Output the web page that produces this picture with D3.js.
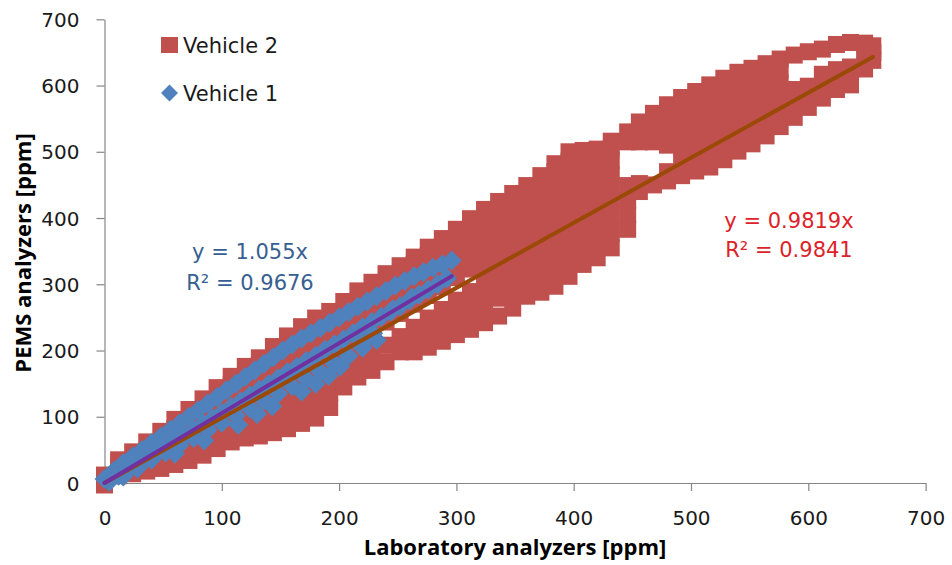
<!DOCTYPE html>
<html>
<head>
<meta charset="utf-8">
<script src="https://cdn.jsdelivr.net/npm/d3@7"></script>
<style>
  body { margin: 0; background: #fff; }
  text { font-family: "DejaVu Sans", "Open Sans", sans-serif; }
  .title { font-family: "Open Sans", "DejaVu Sans", sans-serif; font-weight: bold; font-size: 22px; }
</style>
</head>
<body>
<svg id="chart" width="952" height="565"></svg>
<script>
// Axis ticks (ppm)
const xTicks = [0, 100, 200, 300, 400, 500, 600, 700];
const yTicks = [0, 100, 200, 300, 400, 500, 600, 700];

const seriesNames = ["Vehicle 2", "Vehicle 1"];
const trendSlopes = { "Vehicle 2": 0.9819, "Vehicle 1": 1.055 };
const trendR2 = { "Vehicle 2": "0.9841", "Vehicle 1": "0.9676" };

// Vehicle 2: laboratory reading -> PEMS readings logged at that laboratory value
const vehicle2Columns = [
  [0, [-3, 12]],
  [12, [11, 23, 35]],
  [24, [14, 30, 47]],
  [36, [18, 34, 48, 62]],
  [48, [22, 40, 58, 78]],
  [60, [28, 46, 64, 82, 96]],
  [72, [34, 52, 72, 92, 111]],
  [84, [42, 62, 84, 106, 127]],
  [96, [52, 74, 97, 120, 144]],
  [108, [62, 84, 106, 128, 148, 161]],
  [120, [68, 90, 112, 134, 156, 176]],
  [132, [71, 92, 114, 136, 158, 178, 189]],
  [144, [76, 98, 120, 142, 164, 186, 206]],
  [156, [82, 104, 126, 148, 170, 192, 212, 222]],
  [168, [90, 112, 134, 156, 178, 200, 220, 236]],
  [180, [98, 120, 142, 164, 186, 208, 230, 249]],
  [192, [114, 136, 158, 180, 202, 224, 244, 259]],
  [204, [145, 167, 189, 211, 233, 254, 274]],
  [216, [160, 182, 204, 226, 248, 270, 290]],
  [228, [170, 192, 214, 236, 258, 280, 303]],
  [240, [183, 208, 243, 265, 287, 303, 316]],
  [252, [198, 221, 256, 278, 300, 314, 328]],
  [264, [198, 214, 235, 270, 292, 314, 330, 341]],
  [276, [205, 227, 249, 283, 305, 325, 343, 356]],
  [288, [214, 238, 262, 296, 318, 338, 355, 369]],
  [300, [224, 243, 260, 276, 310, 330, 348, 366, 383]],
  [312, [232, 254, 276, 289, 323, 343, 361, 380, 399]],
  [324, [242, 260, 280, 300, 320, 340, 360, 382, 400, 413]],
  [336, [252, 279, 301, 323, 345, 367, 389, 409, 425]],
  [348, [264, 288, 310, 332, 354, 376, 398, 418, 437]],
  [360, [282, 306, 328, 350, 372, 394, 414, 432, 449]],
  [372, [288, 310, 332, 354, 376, 398, 420, 442, 464]],
  [384, [297, 319, 341, 363, 385, 407, 429, 451, 470, 482]],
  [396, [312, 334, 356, 378, 400, 422, 444, 466, 486, 500]],
  [408, [330, 352, 374, 396, 418, 440, 462, 484, 502]],
  [420, [340, 362, 384, 406, 428, 450, 472, 490, 504]],
  [432, [355, 377, 399, 421, 443, 465, 487, 505, 516]],
  [446, [383, 405, 427, 449, 515, 530]],
  [456, [440, 452, 515, 530, 545]],
  [468, [450, 515, 535, 558]],
  [480, [456, 470, 510, 530, 550, 571]],
  [492, [464, 486, 508, 530, 552, 572, 582]],
  [504, [471, 493, 515, 537, 559, 578, 591]],
  [516, [477, 499, 521, 543, 565, 585, 601]],
  [528, [488, 510, 532, 554, 576, 596, 611]],
  [540, [501, 523, 545, 567, 589, 607, 620]],
  [552, [512, 534, 556, 578, 600, 616, 626]],
  [564, [524, 546, 568, 590, 612, 633]],
  [576, [538, 560, 582, 604, 624, 640]],
  [588, [552, 574, 594, 646]],
  [600, [567, 585, 599, 651]],
  [612, [581, 600, 617, 655]],
  [624, [594, 612, 624, 662]],
  [636, [601, 618, 628, 665]],
  [648, [625, 645, 664]],
  [655, [638, 650, 660]]
];

// Vehicle 1: [laboratory, PEMS] pairs
const vehicle1Upper = [
  [0, 6], [8, 18], [16, 30], [24, 40], [32, 50], [40, 60], [48, 70], [56, 80], [64, 90],
  [72, 100], [80, 110], [88, 120], [96, 130], [104, 140], [112, 150], [120, 160], [128, 170],
  [136, 180], [144, 190], [152, 200], [160, 209], [168, 218], [176, 226], [184, 234],
  [192, 242], [200, 250], [208, 258], [216, 266], [224, 274], [232, 282], [240, 290],
  [248, 298], [256, 305], [264, 312], [272, 318], [280, 325], [288, 330], [296, 336]
];
const vehicle1Middle = [
  [4, 2], [12, 11], [20, 19], [28, 28], [36, 37], [44, 45], [52, 54], [60, 63], [68, 71],
  [76, 80], [84, 89], [92, 97], [100, 106], [108, 115], [116, 123], [124, 132], [132, 141],
  [140, 149], [148, 158], [156, 167], [164, 175], [172, 184], [180, 192], [188, 201],
  [196, 209], [204, 217], [212, 226], [220, 235], [228, 243], [236, 251], [244, 259],
  [252, 267], [260, 276], [268, 284], [276, 292], [284, 300], [292, 309]
];
const vehicle1Lower = [
  [16, 10], [28, 22], [40, 35], [52, 46], [64, 57], [76, 68], [88, 80], [100, 91],
  [112, 102], [124, 113], [136, 124], [148, 135], [160, 146], [172, 157], [184, 168],
  [196, 180], [208, 192], [220, 204], [232, 216]
];
const vehicle1Scattered = [
  [60, 44], [85, 64], [114, 88], [130, 104], [143, 116], [168, 138], [180, 150],
  [191, 162], [201, 176], [221, 212], [229, 226], [246, 262], [262, 280]
];

const vehicle2 = vehicle2Columns.flatMap(([lab, pems]) => pems.map(p => [lab, p]));
const vehicle1 = [...vehicle1Upper, ...vehicle1Middle, ...vehicle1Lower, ...vehicle1Scattered];

const colors = {
  "Vehicle 2": "#C0504D",
  "Vehicle 1": "#4F81BD",
  trend2: "#9A4A06",
  trend1: "#7030A0",
  label2: "#DC2328",
  label1: "#376092",
  axis: "#868686",
  text: "#1a1a1a"
};

const svg = d3.select("#chart");

const x = d3.scaleLinear().domain([0, 700]).range([104.5, 925.6]);
const y = d3.scaleLinear().domain([0, 700]).range([483, 19.3]);

// Axes
const yAxis = svg.append("g")
  .attr("transform", `translate(${x(0)},0)`)
  .call(d3.axisLeft(y).tickValues(yTicks).tickSize(8).tickSizeOuter(0).tickPadding(17));
const xAxis = svg.append("g")
  .attr("transform", `translate(0,${y(0)})`)
  .call(d3.axisBottom(x).tickValues(xTicks).tickSize(8).tickSizeOuter(0));

[yAxis, xAxis].forEach(g => {
  g.select(".domain").attr("stroke", colors.axis).attr("stroke-width", 1.2);
  g.selectAll(".tick line").attr("stroke", colors.axis).attr("stroke-width", 1.2);
  g.selectAll(".tick text")
    .attr("fill", colors.text)
    .style("font-size", "20px")
    .style("font-family", '"DejaVu Sans", sans-serif');
});
xAxis.selectAll(".tick text").attr("y", 42).attr("dy", 0);
yAxis.selectAll(".tick text").attr("dy", "0.36em");

// Axis titles
svg.append("text")
  .attr("class", "title")
  .attr("x", 515).attr("y", 555)
  .attr("text-anchor", "middle")
  .attr("fill", "#000")
  .text("Laboratory analyzers [ppm]");
svg.append("text")
  .attr("class", "title")
  .attr("transform", "translate(31,253) rotate(-90)")
  .attr("text-anchor", "middle")
  .attr("fill", "#000")
  .text("PEMS analyzers [ppm]");

// Markers
const square = 17;
const diamondPath = r => `M0,${-r}L${r},0L0,${r}L${-r},0Z`;

svg.append("g").selectAll("rect")
  .data(vehicle2)
  .join("rect")
  .attr("x", d => x(d[0]) - square / 2)
  .attr("y", d => y(d[1]) - square / 2)
  .attr("width", square).attr("height", square)
  .attr("fill", colors["Vehicle 2"]);

svg.append("g").selectAll("path")
  .data(vehicle1)
  .join("path")
  .attr("transform", d => `translate(${x(d[0])},${y(d[1])})`)
  .attr("d", diamondPath(10))
  .attr("fill", colors["Vehicle 1"]);

// Linear trendlines through the origin
const trend = (data, slope) => {
  const ext = d3.extent(data, d => d[0]);
  return ext.map(v => [v, slope * v]);
};
const line = d3.line().x(d => x(d[0])).y(d => y(d[1]));
svg.append("path")
  .datum(trend(vehicle2, trendSlopes["Vehicle 2"]))
  .attr("d", line).attr("stroke", colors.trend2).attr("stroke-width", 4)
  .attr("stroke-linecap", "round").attr("fill", "none");
svg.append("path")
  .datum(trend(vehicle1, trendSlopes["Vehicle 1"]))
  .attr("d", line).attr("stroke", colors.trend1).attr("stroke-width", 4)
  .attr("stroke-linecap", "round").attr("fill", "none");

// Trendline equations
const eq = [
  { name: "Vehicle 1", cx: 250, y1: 259, y2: 290, color: colors.label1 },
  { name: "Vehicle 2", cx: 789, y1: 228, y2: 257, color: colors.label2 }
];
eq.forEach(e => {
  const g = svg.append("g").attr("fill", e.color).style("font-size", "21px");
  g.append("text").attr("x", e.cx).attr("y", e.y1).attr("text-anchor", "middle")
    .text(`y = ${trendSlopes[e.name]}x`);
  g.append("text").attr("x", e.cx).attr("y", e.y2).attr("text-anchor", "middle")
    .text(`R² = ${trendR2[e.name]}`);
});

// Legend
const legend = svg.append("g");
legend.append("rect").attr("x", 161).attr("y", 37).attr("width", 17).attr("height", 16)
  .attr("fill", colors["Vehicle 2"]);
legend.append("text").attr("x", 183).attr("y", 53).attr("fill", colors.text)
  .style("font-size", "21px").text(seriesNames[0]);
legend.append("path").attr("transform", "translate(169.5,93)").attr("d", diamondPath(8.5))
  .attr("fill", colors["Vehicle 1"]);
legend.append("text").attr("x", 183).attr("y", 101).attr("fill", colors.text)
  .style("font-size", "21px").text(seriesNames[1]);
</script>
</body>
</html>
